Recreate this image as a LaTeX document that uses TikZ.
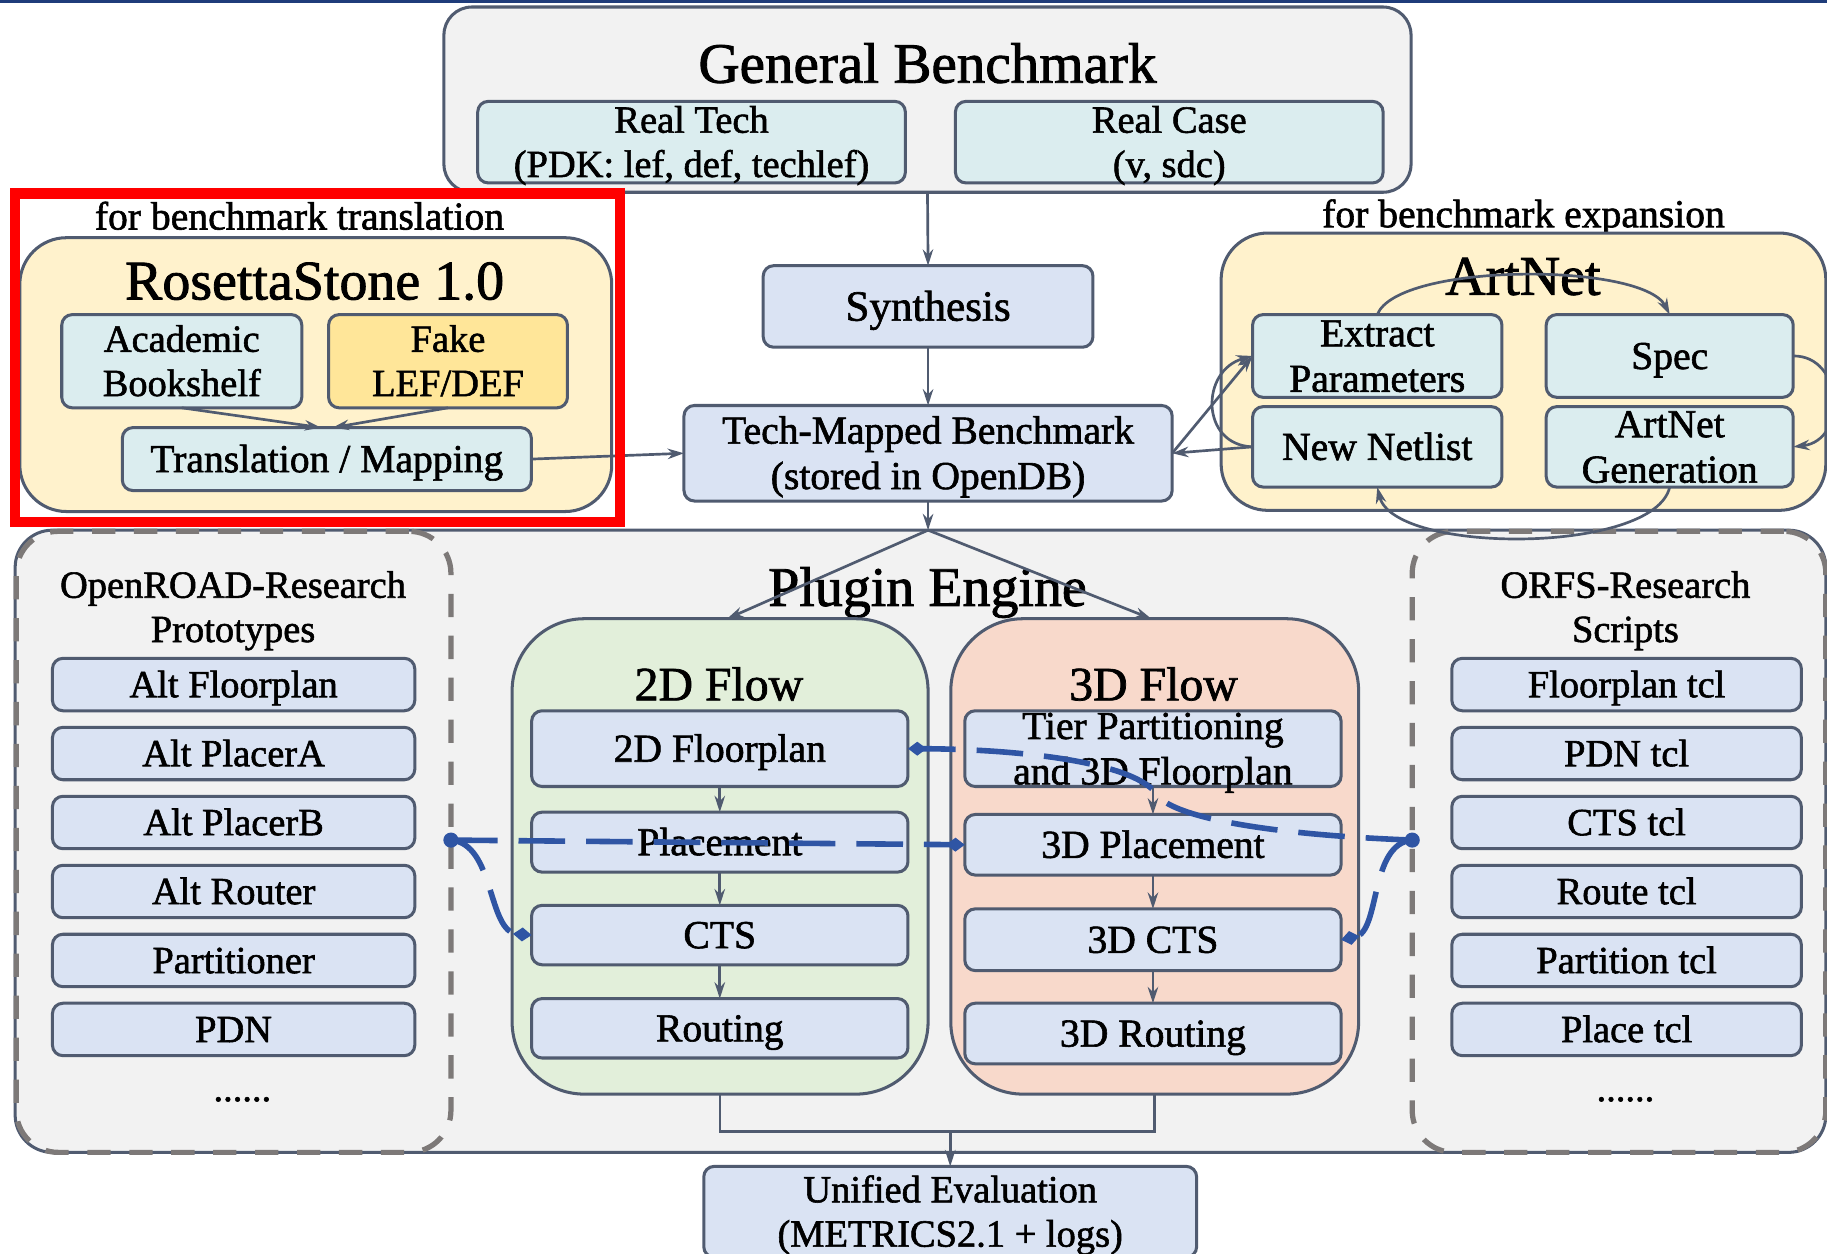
\documentclass[tikz,border=0pt]{standalone}
\usepackage{fontspec}
\setmainfont{Liberation Serif}[FakeBold=1.5]
\usetikzlibrary{arrows.meta}

\definecolor{slate}{HTML}{505B70}
\definecolor{panelgray}{HTML}{F2F2F2}
\definecolor{cyanbox}{HTML}{DBEDEF}
\definecolor{bluebox}{HTML}{DAE3F3}
\definecolor{yellowpanel}{HTML}{FFF2CC}
\definecolor{goldbox}{HTML}{FFE699}
\definecolor{greenpanel}{HTML}{E2EFDA}
\definecolor{peachpanel}{HTML}{F8D9CB}
\definecolor{dashgray}{HTML}{7D7978}
\definecolor{linkblue}{HTML}{2F55A4}
\definecolor{navyrule}{HTML}{1F3C7A}

\newcommand{\fsTitle}{\fontsize{48}{53}\selectfont}
\newcommand{\fsFlow}{\fontsize{41}{46}\selectfont}
\newcommand{\fsSynth}{\fontsize{37}{42}\selectfont}
\newcommand{\fsBox}{\fontsize{34}{39}\selectfont}
\newcommand{\fsItem}{\fontsize{33}{38}\selectfont}

% box labels are centred on their capital letters: every line is smashed
% and a cap-high strut gives the first line its height
\newcommand{\one}[1]{\rule{0pt}{0.66em}\smash{#1}}
\newcommand{\two}[2]{\rule{0pt}{0.66em}\smash{#1}\\\smash{#2}}

\tikzset{
  panel/.style={draw=slate, line width=2.6pt, inner sep=0pt, outer sep=0pt},
  box/.style={draw=slate, line width=2.6pt, rounded corners=9pt, inner sep=0pt,
    outer sep=0pt, align=center, font=\fsBox},
  sz/.style 2 args={minimum width=#1, minimum height=#2},
  item/.style={box, fill=bluebox, font=\fsItem, minimum height=45},
  flowbox/.style={box, fill=bluebox, minimum width=323},
  titletext/.style={anchor=base, font=\fsTitle, inner sep=0pt},
  plain/.style={anchor=base, inner sep=0pt},
  flowarrow/.style={draw=slate, line width=2.3pt, -{Stealth[length=14pt,width=9pt]}},
  dashframe/.style={draw=dashgray, line width=4.5pt, dash pattern=on 20pt off 16pt,
    rounded corners=36pt, inner sep=0pt, outer sep=0pt},
  link/.style={draw=linkblue, line width=4.8pt, dash pattern=on 40pt off 18pt,
    -{Diamond[length=16pt,width=12pt]}},
}

\begin{document}
\begin{tikzpicture}[x=1pt, y=-1pt]
\useasboundingbox (0,0) rectangle (1568,1076);

% rule along the top edge
\fill[navyrule] (0,0) rectangle (1568,2.5);

% ---------- General Benchmark ----------
\node[panel, rounded corners=24pt, fill=panelgray, sz={830}{159}] (gb) at (796,85.5) {};
\node[titletext, font=\fontsize{49}{54}\selectfont] (gbtitle) at (796,71) {General Benchmark};
\node[box, fill=cyanbox, sz={367}{70}, font=\fsItem] (realtech) at (593.5,122) {\two{Real Tech}{(PDK: lef, def, techlef)}};
\node[box, fill=cyanbox, sz={367}{70}, font=\fsItem] (realcase) at (1003.5,122) {\two{Real Case}{(v, sdc)}};

% ---------- main spine ----------
\node[box, fill=bluebox, sz={283}{70}, font=\fsSynth] (synth) at (796.5,263) {\one{Synthesis}};
\node[box, fill=bluebox, sz={419}{82}] (tm) at (796.5,389) {\two{Tech-Mapped Benchmark}{(stored in OpenDB)}};

% ---------- RosettaStone ----------
\node[plain, font=\fsBox] (transcap) at (257,197) {for benchmark translation};
\node[panel, rounded corners=40pt, fill=yellowpanel, sz={508}{235}] (rosetta) at (271,321.5) {};
\node[titletext] (rosettatitle) at (270,257) {RosettaStone 1.0};
\node[box, fill=cyanbox, sz={206}{80}, font=\fsItem] (acad) at (156,310) {\two{Academic}{Bookshelf}};
\node[box, fill=goldbox, sz={205}{80}, font=\fsItem] (fake) at (384.5,310) {\two{Fake}{LEF/DEF}};
\node[box, fill=cyanbox, sz={351}{54}] (trans) at (280.5,394) {\one{Translation / Mapping}};

% ---------- ArtNet ----------
\node[plain, font=\fsBox] (expcap) at (1307.5,195) {for benchmark expansion};
\node[panel, rounded corners=40pt, fill=yellowpanel, sz={519}{238}] (artnet) at (1307.5,319) {};
\node[titletext] (artnettitle) at (1307,253) {ArtNet};
\node[box, fill=cyanbox, sz={214}{71}] (extract) at (1182,305.5) {\two{Extract}{Parameters}};
\node[box, fill=cyanbox, sz={212}{71}] (spec) at (1433,305.5) {\one{Spec}};
\node[box, fill=cyanbox, sz={214}{69}] (newnet) at (1182,383.5) {\one{New Netlist}};
\node[box, fill=cyanbox, sz={212}{69}] (artgen) at (1433,383.5) {\two{ArtNet}{Generation}};

% ---------- Plugin Engine ----------
\node[panel, rounded corners=32pt, fill=panelgray, sz={1554}{534}] (plugin) at (790,722) {};
\node[titletext] (plugintitle) at (796,520) {Plugin Engine};

% OpenROAD-Research prototypes
\node[dashframe, sz={373}{533}] (protoframe) at (200.5,722.5) {};
\node[plain, font=\fsItem] (protoA) at (200,513) {OpenROAD-Research};
\node[plain, font=\fsItem] (protoB) at (200,551) {Prototypes};
\node[item, minimum width=311] (p1) at (200.5,587.5) {\one{Alt Floorplan}};
\node[item, minimum width=311] (p2) at (200.5,646.7) {\one{Alt PlacerA}};
\node[item, minimum width=311] (p3) at (200.5,705.9) {\one{Alt PlacerB}};
\node[item, minimum width=311] (p4) at (200.5,765.1) {\one{Alt Router}};
\node[item, minimum width=311] (p5) at (200.5,824.3) {\one{Partitioner}};
\node[item, minimum width=311] (p6) at (200.5,883.5) {\one{PDN}};
\node[plain, font=\fsItem] (pdots) at (208,945) {......};

% ORFS-Research scripts
\node[dashframe, sz={355}{533}] (scriptframe) at (1389.5,722.5) {};
\node[plain, font=\fsItem] (scrA) at (1395,513) {ORFS-Research};
\node[plain, font=\fsItem] (scrB) at (1395,551) {Scripts};
\node[item, minimum width=300] (s1) at (1396,587.5) {\one{Floorplan tcl}};
\node[item, minimum width=300] (s2) at (1396,646.7) {\one{PDN tcl}};
\node[item, minimum width=300] (s3) at (1396,705.9) {\one{CTS tcl}};
\node[item, minimum width=300] (s4) at (1396,765.1) {\one{Route tcl}};
\node[item, minimum width=300] (s5) at (1396,824.3) {\one{Partition tcl}};
\node[item, minimum width=300] (s6) at (1396,883.5) {\one{Place tcl}};
\node[plain, font=\fsItem] (sdots) at (1395,945) {......};

% 2D flow
\node[panel, rounded corners=62pt, fill=greenpanel, sz={357}{408}] (fl2) at (618,735) {};
\node[plain, font=\fsFlow] (fl2title) at (617,601) {2D Flow};
\node[flowbox, minimum height=65] (fp2) at (617.75,642.5) {\one{2D Floorplan}};
\node[flowbox, minimum height=51.5] (pl2) at (617.75,722.75) {\one{Placement}};
\node[flowbox, minimum height=51] (cts2) at (617.75,802.5) {\one{CTS}};
\node[flowbox, minimum height=51] (rt2) at (617.75,882.5) {\one{Routing}};

% 3D flow
\node[panel, rounded corners=62pt, fill=peachpanel, sz={350}{408}] (fl3) at (991,735) {};
\node[plain, font=\fsFlow] (fl3title) at (990,601) {3D Flow};
\node[flowbox, minimum height=65] (tier) at (989.5,642.5) {\two{Tier Partitioning}{and 3D Floorplan}};
\node[flowbox, minimum height=52] (pl3) at (989.5,725) {\one{3D Placement}};
\node[flowbox, minimum height=53] (cts3) at (989.5,806.5) {\one{3D CTS}};
\node[flowbox, minimum height=52] (rt3) at (989.5,887) {\one{3D Routing}};

% unified evaluation
\node[box, fill=bluebox, sz={423}{78}, font=\fsItem] (ue) at (815.5,1040) {\two{Unified Evaluation}{(METRICS2.1 + logs)}};

% ---------- connectors ----------
\coordinate (apex) at (796.5,455);
\draw[flowarrow] (gb.south) -- (synth.north);
\draw[flowarrow] (synth.south) -- (tm.north);
\draw[flowarrow] (tm.south) -- (apex);
\draw[flowarrow] (apex) -- ([xshift=6pt]fl2.north);
\draw[flowarrow] (apex) -- ([xshift=-3pt]fl3.north);

\draw[flowarrow] (acad.south) -- ([xshift=-5pt]trans.north);
\draw[flowarrow] (fake.south) -- ([xshift=5pt]trans.north);
\draw[flowarrow] (trans.east) -- (tm.west);

\draw[flowarrow] (tm.east) -- (extract.west);
\draw[flowarrow] (newnet.west) -- (tm.east);
\draw[flowarrow] (newnet.west) .. controls (1030,382) and (1030,318) .. (extract.west);
\draw[flowarrow] (extract.north) .. controls (1200,225) and (1410,225) .. (spec.north);
\draw[flowarrow] (spec.east) .. controls (1582,305) and (1586,378) .. (artgen.east);
\draw[flowarrow] (artgen.south) .. controls (1420,476) and (1196,476) .. (newnet.south);

\draw[flowarrow] (fp2.south) -- (pl2.north);
\draw[flowarrow] (pl2.south) -- (cts2.north);
\draw[flowarrow] (cts2.south) -- (rt2.north);
\draw[flowarrow] (tier.south) -- (pl3.north);
\draw[flowarrow] (pl3.south) -- (cts3.north);
\draw[flowarrow] (cts3.south) -- (rt3.north);

\coordinate (join) at (815.5,971);
\draw[draw=slate, line width=2.3pt] (fl2.south) -- ++(0,32) -| (fl3.south);
\draw[flowarrow] (join) -- (ue.north);

% plugin hooks between the flows and the research collections
\coordinate (dotL) at (387,721);
\coordinate (dotR) at (1212,721);
\draw[link] (dotL) -- (pl3.west);
\draw[link] (dotL) .. controls (425,724) and (418,800) .. (cts2.west);
\draw[link] (dotR) .. controls (1080,716) and (1005,700) .. (993,682)
               .. controls (975,655) and (880,643) .. (fp2.east);
\draw[link] (dotR) .. controls (1175,724) and (1185,800) .. (cts3.east);
\fill[linkblue] (dotL) circle (6.5pt);
\fill[linkblue] (dotR) circle (6.5pt);

% highlight frame around the translation block
\draw[red, line width=9pt] (13,166) rectangle (532,448);
\end{tikzpicture}
\end{document}
